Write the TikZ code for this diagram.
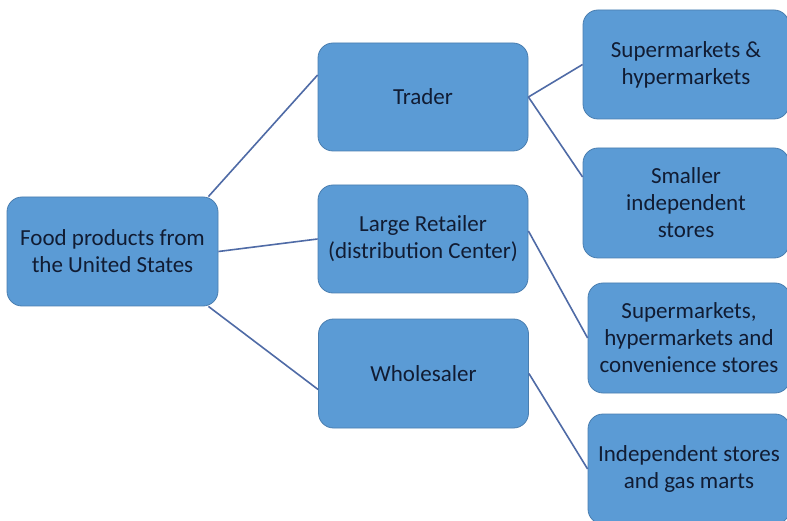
\documentclass[tikz,border=0pt]{standalone}
\usepackage{fontspec}
\setmainfont{Carlito}
\definecolor{boxfill}{HTML}{5B9BD5}
\definecolor{boxedge}{HTML}{4A7EB0}
\definecolor{txt}{HTML}{111C33}
\definecolor{link}{HTML}{4F6BA6}
\begin{document}
\begin{tikzpicture}[x=1pt,y=-1pt,
  box/.style={draw=boxedge, line width=0.8pt, fill=boxfill, rounded corners=15pt,
    align=center, text=txt, font=\fontsize{23}{27}\selectfont, inner sep=0pt},
  link/.style={draw=link, line width=1.6pt}]
\useasboundingbox (0,0) rectangle (787,521);
\fill[white] (0,0) rectangle (787,521);
\node[box, minimum width=211pt, minimum height=109pt] (food) at (112.5,251.5) {Food products from\\the United States};
\node[box, minimum width=210pt, minimum height=108pt] (trader) at (423,97) {Trader};
\node[box, minimum width=210pt, minimum height=108pt] (retail) at (423,239) {Large Retailer\\(distribution Center)};
\node[box, minimum width=210pt, minimum height=109pt] (whole) at (423.5,373.5) {Wholesaler};
\node[box, minimum width=206pt, minimum height=109pt] (supa) at (686,64.5) {Supermarkets \&\\hypermarkets};
\node[box, minimum width=206pt, minimum height=110pt] (small) at (686,203) {Smaller\\independent\\stores};
\node[box, minimum width=202pt, minimum height=110pt] (supb) at (689,338) {Supermarkets,\\hypermarkets and\\convenience stores};
\node[box, minimum width=202pt, minimum height=110pt] (indep) at (689,469) {Independent stores\\and gas marts};
\draw[link] ([xshift=-10pt]food.north east) -- ([yshift=22pt]trader.west);
\draw[link] (food.east) -- (retail.west);
\draw[link] ([xshift=-10pt]food.south east) -- ([yshift=-16pt]whole.west);
\draw[link] (trader.east) -- (supa.west);
\draw[link] (trader.east) -- ([yshift=26pt]small.west);
\draw[link] ([yshift=8pt]retail.east) -- (supb.west);
\draw[link] (whole.east) -- (indep.west);
\end{tikzpicture}
\end{document}
